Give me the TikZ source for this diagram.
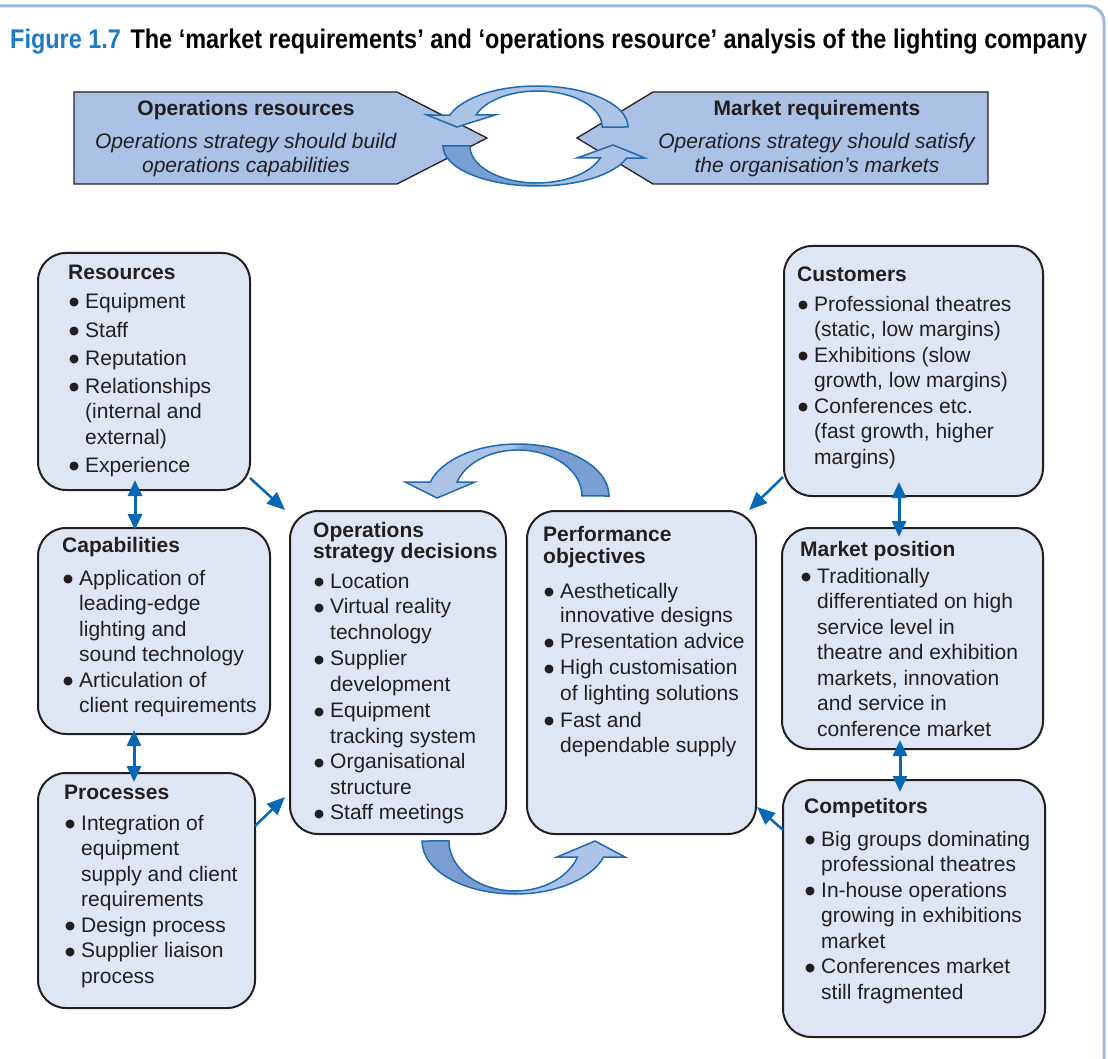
\documentclass[tikz,border=0pt]{standalone}
\usepackage{fontspec}
\setmainfont{Liberation Sans}
\newfontfamily\symfont{DejaVu Sans}
\usepackage{graphicx}
\usetikzlibrary{arrows.meta}
\definecolor{boxfill}{HTML}{DFE6F3}
\definecolor{boxline}{HTML}{231F20}
\definecolor{textcol}{HTML}{231F20}
\definecolor{banfill}{HTML}{AAC0E4}
\definecolor{arclight}{HTML}{ADC3E6}
\definecolor{arcdark}{HTML}{7A9ED2}
\definecolor{arcline}{HTML}{1E6BB3}
\definecolor{arrowblue}{HTML}{0868B3}
\definecolor{framecol}{HTML}{9DB8E0}
\definecolor{figblue}{HTML}{1B7BC4}
\pgfdeclarehorizontalshading{darkleft}{100bp}{color(0bp)=(arcdark); color(47bp)=(arcdark); color(50bp)=(arclight); color(100bp)=(arclight)}
\pgfdeclarehorizontalshading{darkright}{100bp}{color(0bp)=(arclight); color(51bp)=(arclight); color(54bp)=(arcdark); color(100bp)=(arcdark)}
\newcommand{\myb}{\makebox[17pt][l]{\hspace{1pt}\raisebox{2.4pt}{\fontsize{11.5}{11.5}\symfont ●}}}
\newcommand{\myi}{\hspace*{17pt}}
\begin{document}
\begin{tikzpicture}[x=1pt,y=-1pt,
  box/.style={draw=boxline, line width=2pt, fill=boxfill, rounded corners=28pt, inner sep=0pt, anchor=north west},
  txt/.style={anchor=north west, align=left, inner sep=0pt, text=textcol, font=\fontsize{21}{25.5}\selectfont},
  bantext/.style={anchor=north, align=center, inner sep=0pt, text=textcol, font=\fontsize{21}{24}\selectfont},
  banshape/.style={draw=boxline, line width=1.3pt, fill=banfill, line join=miter},
  conn/.style={draw=arrowblue, line width=2.5pt, -{Triangle[width=15pt,length=18pt]}},
  dbl/.style={draw=arrowblue, line width=3pt, {Triangle[width=14pt,length=16pt]}-{Triangle[width=14pt,length=16pt]}},
  arcarrow/.style={draw=arcline, line width=1.5pt, line join=miter},
]
\useasboundingbox (0,0) rectangle (1108,1059);
\fill[white] (0,0) rectangle (1108,1059);

% frame
\draw[framecol, line width=3pt, rounded corners=16pt] (-4,6) -- (1104,6) -- (1104,1075);

% title
\node[anchor=base west, inner sep=0pt] (title) at (10,49)
  {\resizebox{1077pt}{\height}{\fontsize{27}{27}\selectfont\bfseries\textcolor{figblue}{Figure 1.7}\hspace{11pt}The ‘market requirements’ and ‘operations resource’ analysis of the lighting company}};

% banner shapes
\draw[banshape] (74,92) -- (397,92) -- (487,138) -- (397,184) -- (74,184) -- cycle;
\draw[banshape] (653,92) -- (988,92) -- (988,184) -- (653,184) -- (577,138) -- cycle;
\node[bantext] (bantextL) at (246,98.2)
  {\textbf{Operations resources}\strut\\[9pt]
   \textit{Operations strategy should build}\\
   \textit{operations capabilities}};
\node[bantext] (bantextR) at (817,98.2)
  {\textbf{Market requirements}\strut\\[9pt]
   \textit{Operations strategy should satisfy}\\
   \textit{the organisation’s markets}};

% banner circular arrows
\filldraw[arcarrow, fill=arclight] (628,127) arc[start angle=360, end angle=197, x radius=91, y radius=41]
  -- (427,115) -- (457,127) -- (495,115) -- (476,115)
  arc[start angle=199.5, end angle=360, x radius=65, y radius=36] -- cycle;
\shadedraw[arcarrow, shading=darkleft] (443,146) arc[start angle=180, end angle=17.5, x radius=94, y radius=40]
  -- (645,158) -- (613,145) -- (577,158) -- (600.3,158)
  arc[start angle=19, end angle=180, x radius=67, y radius=37] -- cycle;

% middle circular arrows
\shadedraw[arcarrow, shading=darkright] (609,496) arc[start angle=360, end angle=195.6, x radius=91, y radius=52]
  -- (405,482) -- (437,498) -- (475,482) -- (457,482)
  arc[start angle=197.7, end angle=360, x radius=64, y radius=46] -- cycle;
\shadedraw[arcarrow, shading=darkleft] (422,841) arc[start angle=180, end angle=17.6, x radius=93, y radius=53]
  -- (625,857) -- (595,841) -- (557,857) -- (577.5,857)
  arc[start angle=18.7, end angle=180, x radius=66, y radius=50] -- cycle;

% boxes
\node[box, minimum width=212pt, minimum height=237pt] (res) at (37,252) {};
\node[box, minimum width=232pt, minimum height=206pt] (cap) at (37,527) {};
\node[box, minimum width=217pt, minimum height=235pt] (proc) at (37,772) {};
\node[box, minimum width=216pt, minimum height=323pt] (ops) at (289,510) {};
\node[box, minimum width=229pt, minimum height=323pt] (perf) at (526,510) {};
\node[box, minimum width=259pt, minimum height=250pt] (cust) at (783,245) {};
\node[box, minimum width=261pt, minimum height=221pt] (mkt) at (781,527) {};
\node[box, minimum width=262pt, minimum height=257pt] (comp) at (782,779) {};

% box texts
\node[txt] (restxt) at (68,261.15)
  {\textbf{Resources}\strut\\[3.5pt]
   \myb Equipment\\[3.5pt]
   \myb Staff\\[2.5pt]
   \myb Reputation\\[2.5pt]
   \myb Relationships\\
   \myi (internal and\\
   \myi external)\\[2.5pt]
   \myb Experience};
\node[txt] (captxt) at (62,534.15)
  {\textbf{Capabilities}\strut\\[7.5pt]
   \myb Application of\\
   \myi leading-edge\\
   \myi lighting and\\
   \myi sound technology\\
   \myb Articulation of\\
   \myi client requirements};
\node[txt] (proctxt) at (64,781.15)
  {\textbf{Processes}\strut\\[5.5pt]
   \myb Integration of\\
   \myi equipment\\
   \myi supply and client\\
   \myi requirements\\
   \myb Design process\\
   \myb Supplier liaison\\
   \myi process};
\node[txt] (opstxt) at (313,519.15)
  {\textbf{Operations}\strut\\[-4.5pt]
   \textbf{strategy decisions}\\[4.5pt]
   \myb Location\\
   \myb Virtual reality\\
   \myi technology\\[1pt]
   \myb Supplier\\
   \myi development\\[1pt]
   \myb Equipment\\
   \myi tracking system\\
   \myb Organisational\\
   \myi structure\\
   \myb Staff meetings};
\node[txt] (perftxt) at (543,523.15)
  {\textbf{Performance}\strut\\[-3.5pt]
   \textbf{objectives}\\[9.5pt]
   \myb Aesthetically\\[-1pt]
   \myi innovative designs\\[0.5pt]
   \myb Presentation advice\\[0.5pt]
   \myb High customisation\\
   \myi of lighting solutions\\[1.5pt]
   \myb Fast and\\
   \myi dependable supply};
\node[txt] (custtxt) at (797,263.15)
  {\textbf{Customers}\strut\\[4.5pt]
   \myb Professional theatres\\
   \myi (static, low margins)\\
   \myb Exhibitions (slow\\
   \myi growth, low margins)\\
   \myb Conferences etc.\\
   \myi (fast growth, higher\\
   \myi margins)};
\node[txt] (mkttxt) at (800,538.15)
  {\textbf{Market position}\strut\\[1.5pt]
   \myb Traditionally\\
   \myi differentiated on high\\
   \myi service level in\\
   \myi theatre and exhibition\\
   \myi markets, innovation\\
   \myi and service in\\
   \myi conference market};
\node[txt] (comptxt) at (804,795.15)
  {\textbf{Competitors}\strut\\[7.5pt]
   \myb Big groups dominating\\
   \myi professional theatres\\
   \myb In-house operations\\
   \myi growing in exhibitions\\
   \myi market\\
   \myb Conferences market\\
   \myi still fragmented};

% connectors
\draw[conn] ([shift={(-1,-13)}]res.south east) -- ([shift={(-4,0)}]ops.north west);
\draw[conn] ([shift={(-1,54)}]proc.north east) -- ([shift={(-4,-38)}]ops.south west);
\draw[conn] ([shift={(0,-20)}]cust.south west) -- ([shift={(-8,0)}]perf.north east);
\draw[conn] ([shift={(1,51)}]comp.north west) -- ([shift={(0,-28)}]perf.south east);
\draw[dbl] ([shift={(98,-11)}]res.south west) -- ([shift={(98,3)}]cap.north west);
\draw[dbl] ([shift={(97,-5)}]cap.south west) -- ([shift={(97,10)}]proc.north west);
\draw[dbl] ([shift={(116,-15)}]cust.south west) -- ([shift={(118,10)}]mkt.north west);
\draw[dbl] ([shift={(119,-10)}]mkt.south west) -- ([shift={(118,13)}]comp.north west);
\end{tikzpicture}
\end{document}
